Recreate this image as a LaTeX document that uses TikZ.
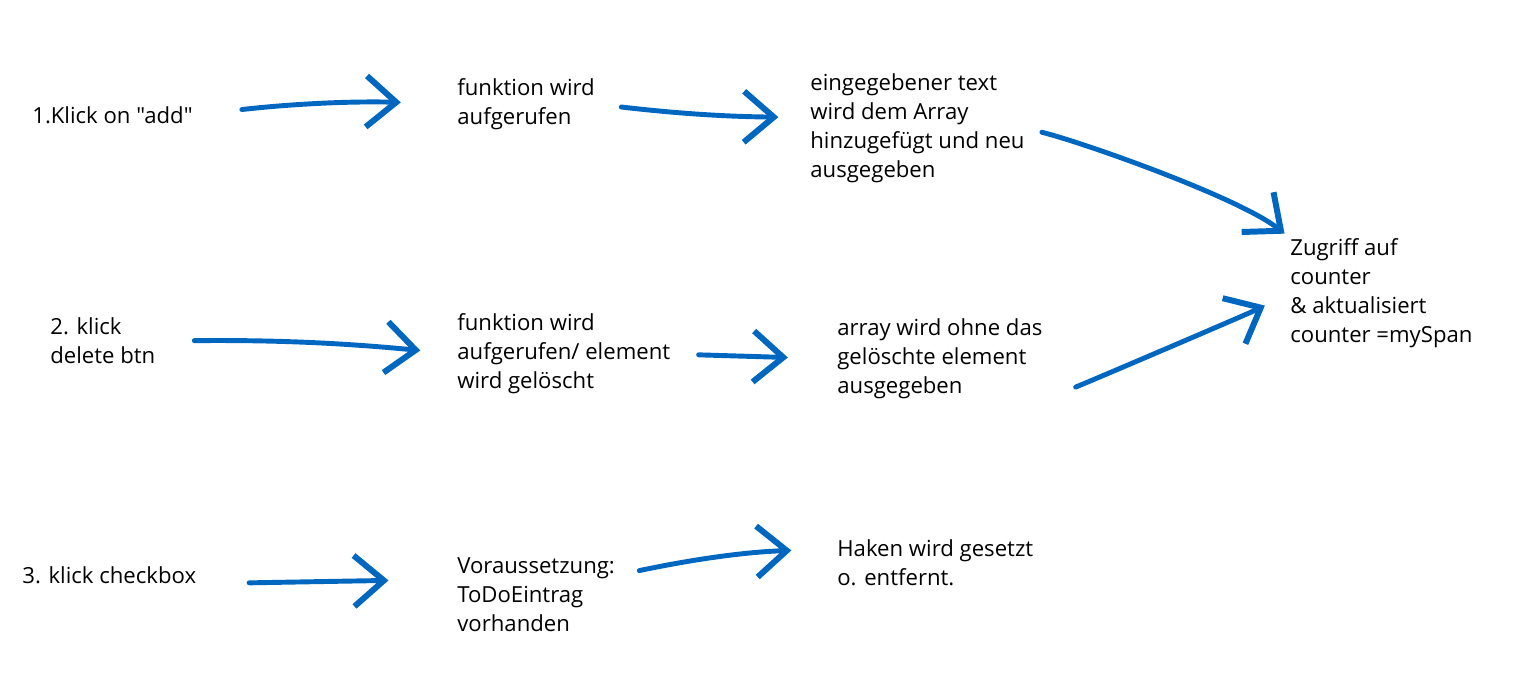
\documentclass[tikz,border=0pt]{standalone}
\usepackage{fontspec}
\setmainfont{Open Sans}[Ligatures=TeXOff]
\usetikzlibrary{arrows.meta}
\definecolor{penblue}{RGB}{0,103,192}

\begin{document}
\begin{tikzpicture}[x=0.02cm,y=-0.02cm,
    txt/.style={anchor=west,align=left,inner sep=0pt,font=\fontsize{12.6}{16.5}\selectfont},
    pen/.style={draw=penblue,line width=2.8pt,line cap=round,line join=round,
        -{Straight Barb[length=17pt,width=29pt,line width=3.4pt]}}]
    \useasboundingbox (0,0) rectangle (1514,692);

    \node[txt](n1)at(32,115){1.Klick on "add"};
    \node[txt](f1)at(457,104){funktion wird\\aufgerufen};
    \node[txt](e1)at(810,128){eingegebener text\\wird dem Array\\hinzugefügt und neu\\ausgegeben};
    \node[txt](z)at(1290,293){Zugriff auf\\counter\\\& aktualisiert\\counter =mySpan};

    \node[txt](n2)at(50,341){2. klick\\delete btn};
    \node[txt](f2)at(457,354){funktion wird\\aufgerufen/ element\\wird gelöscht};
    \node[txt](a2)at(837,359){array wird ohne das\\gelöschte element\\ausgegeben};

    \node[txt](n3)at(22,575){3. klick checkbox};
    \node[txt](v3)at(457,595){Voraussetzung:\\ToDoEintrag\\vorhanden};
    \node[txt](h3)at(837,563){Haken wird gesetzt\\o. entfernt.};

    \draw[pen,shorten <=28pt,shorten >=32pt](n1.east) to[bend left=4] (f1.west);
    \draw[pen,shorten <=15pt,shorten >=18pt](f1.east) to[bend right=3] ([yshift=6pt]e1.west);
    \draw[pen,shorten <=10pt,shorten >=4pt](e1.east) .. controls +(60,15) and +(-50,-40) .. (z.north west);

    \draw[pen,shorten <=22pt,shorten >=21pt](n2.east) to[bend left=3] (f2.west);
    \draw[pen,shorten <=16pt,shorten >=28pt](f2.east) -- (a2.west);
    \draw[pen,shorten <=20pt,shorten >=16pt](a2.south east) .. controls +(40,-15) and +(-40,20) .. (z.west);

    \draw[pen,shorten <=30pt,shorten >=39pt]([yshift=-5pt]n3.east) to ([yshift=9pt]v3.west);
    \draw[pen,shorten <=14pt,shorten >=26pt]([yshift=11pt]v3.east) to[bend left=5] ([yshift=8pt]h3.west);
\end{tikzpicture}
\end{document}
